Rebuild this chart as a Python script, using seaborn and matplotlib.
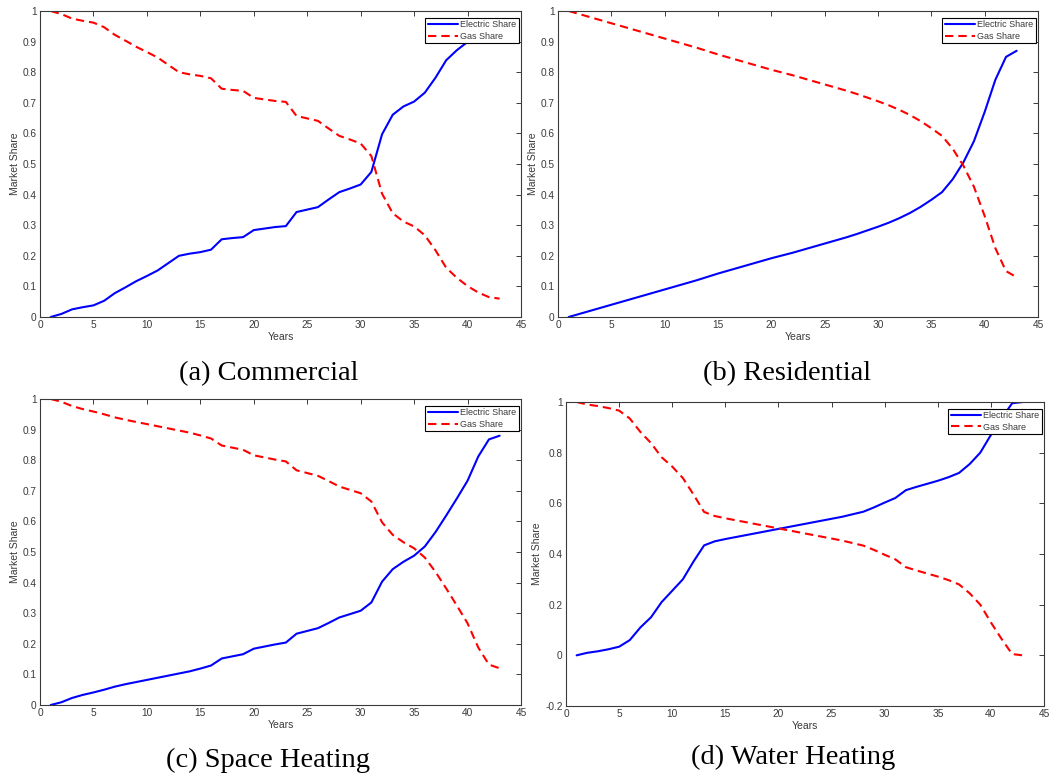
import matplotlib
matplotlib.use("Agg")
import matplotlib.pyplot as plt
from matplotlib.ticker import FuncFormatter
import numpy as np
import pandas as pd
import seaborn as sns

years = list(range(1, 44))

commercial_electric = [0.000, 0.010, 0.025, 0.032, 0.038, 0.053, 0.078, 0.097, 0.117, 0.134,
                       0.152, 0.176, 0.200, 0.207, 0.212, 0.220, 0.254, 0.258, 0.261, 0.284,
                       0.289, 0.294, 0.297, 0.343, 0.351, 0.359, 0.384, 0.408, 0.420, 0.433,
                       0.474, 0.597, 0.661, 0.688, 0.704, 0.733, 0.782, 0.839, 0.872, 0.899,
                       0.920, 0.935, 0.940]
commercial_gas = [1.000, 0.990, 0.975, 0.968, 0.962, 0.947, 0.922, 0.903, 0.883, 0.866,
                  0.848, 0.824, 0.800, 0.793, 0.788, 0.780, 0.746, 0.742, 0.739, 0.716,
                  0.711, 0.706, 0.703, 0.657, 0.649, 0.641, 0.616, 0.592, 0.580, 0.567,
                  0.526, 0.403, 0.339, 0.312, 0.296, 0.267, 0.218, 0.161, 0.128, 0.101,
                  0.080, 0.065, 0.060]

residential_electric = [0.000, 0.010, 0.020, 0.030, 0.040, 0.050, 0.060, 0.070, 0.080, 0.090,
                        0.100, 0.110, 0.120, 0.131, 0.142, 0.152, 0.162, 0.172, 0.182, 0.192,
                        0.201, 0.210, 0.220, 0.230, 0.240, 0.250, 0.260, 0.271, 0.283, 0.295,
                        0.308, 0.323, 0.340, 0.360, 0.383, 0.408, 0.450, 0.505, 0.575, 0.670,
                        0.775, 0.850, 0.870]
residential_gas = [1.000, 0.990, 0.980, 0.970, 0.960, 0.950, 0.940, 0.930, 0.920, 0.910,
                   0.900, 0.890, 0.880, 0.869, 0.858, 0.848, 0.838, 0.828, 0.818, 0.808,
                   0.799, 0.790, 0.780, 0.770, 0.760, 0.750, 0.740, 0.729, 0.717, 0.705,
                   0.692, 0.677, 0.660, 0.640, 0.617, 0.592, 0.550, 0.495, 0.425, 0.330,
                   0.225, 0.150, 0.130]

space_electric = [0.000, 0.009, 0.023, 0.033, 0.041, 0.050, 0.060, 0.068, 0.075, 0.082,
                  0.089, 0.096, 0.103, 0.110, 0.119, 0.129, 0.152, 0.159, 0.166, 0.184,
                  0.191, 0.198, 0.204, 0.233, 0.242, 0.251, 0.268, 0.286, 0.297, 0.308,
                  0.335, 0.403, 0.444, 0.468, 0.488, 0.518, 0.565, 0.619, 0.675, 0.733,
                  0.812, 0.868, 0.880]
space_gas = [1.000, 0.991, 0.977, 0.967, 0.959, 0.950, 0.940, 0.932, 0.925, 0.918,
             0.911, 0.904, 0.897, 0.890, 0.881, 0.871, 0.848, 0.841, 0.834, 0.816,
             0.809, 0.802, 0.796, 0.767, 0.758, 0.749, 0.732, 0.714, 0.703, 0.692,
             0.665, 0.597, 0.556, 0.532, 0.512, 0.482, 0.435, 0.381, 0.325, 0.267,
             0.188, 0.132, 0.120]

water_electric = [0.000, 0.010, 0.016, 0.024, 0.034, 0.060, 0.110, 0.150, 0.210, 0.255,
                  0.300, 0.370, 0.434, 0.450, 0.459, 0.467, 0.475, 0.483, 0.491, 0.499,
                  0.507, 0.515, 0.523, 0.531, 0.539, 0.547, 0.557, 0.567, 0.584, 0.603,
                  0.621, 0.652, 0.665, 0.677, 0.689, 0.703, 0.720, 0.755, 0.800, 0.870,
                  0.935, 0.995, 1.000]
water_gas = [1.000, 0.990, 0.984, 0.976, 0.966, 0.935, 0.882, 0.838, 0.782, 0.745,
             0.700, 0.635, 0.566, 0.550, 0.541, 0.533, 0.525, 0.517, 0.509, 0.501,
             0.493, 0.485, 0.477, 0.469, 0.461, 0.453, 0.443, 0.433, 0.416, 0.397,
             0.379, 0.348, 0.335, 0.323, 0.311, 0.297, 0.280, 0.245, 0.200, 0.130,
             0.065, 0.005, 0.000]

series_names = ["Electric Share", "Gas Share"]
captions = ["(a) Commercial", "(b) Residential", "(c) Space Heating", "(d) Water Heating"]

sns.set_theme(style="white")
plt.rcParams["font.family"] = ["Liberation Sans", "DejaVu Sans"]

W, H = 1052, 779
fig = plt.figure(figsize=(W / 100, H / 100), dpi=100)
fig.patch.set_facecolor("white")

def px_axes(l, t, r, b):
    return fig.add_axes([l / W, 1 - b / H, (r - l) / W, (b - t) / H])

panels = [
    (commercial_electric, commercial_gas, (40, 11, 521, 317), (269, 374), "std"),
    (residential_electric, residential_gas, (558, 11, 1038, 317), (787, 374), "std"),
    (space_electric, space_gas, (40, 399, 521, 705), (268, 760), "std"),
    (water_electric, water_gas, (566, 402, 1044, 706), (793, 757), "water"),
]

ink = "#3a3a3a"
fmt = FuncFormatter(lambda v, p: "%g" % round(v, 3))

for (elec, gas, box, cap, kind), caption in zip(panels, captions):
    ax = px_axes(*box)
    df = pd.DataFrame({
        "Years": years + years,
        "Market Share": elec + gas,
        "Series": [series_names[0]] * len(years) + [series_names[1]] * len(years),
    })
    sns.lineplot(data=df, x="Years", y="Market Share", hue="Series", style="Series",
                 palette={series_names[0]: "#0000ff", series_names[1]: "#ff0000"},
                 dashes={series_names[0]: "", series_names[1]: (4.0, 2.4)},
                 linewidth=1.5, ax=ax, legend=True)
    ax.set_xlim(0, 45)
    ax.set_xticks(np.arange(0, 46, 5))
    if kind == "water":
        ax.set_ylim(-0.2, 1)
        ax.set_yticks(np.arange(-0.2, 1.01, 0.2))
    else:
        ax.set_ylim(0, 1)
        ax.set_yticks(np.arange(0, 1.01, 0.1))
    ax.xaxis.set_major_formatter(fmt)
    ax.yaxis.set_major_formatter(fmt)
    ax.tick_params(direction="in", length=3.5, width=0.7, top=True, right=True,
                   labelsize=7.3, colors=ink, pad=2.5)
    for sp in ax.spines.values():
        sp.set_visible(True)
        sp.set_color(ink)
        sp.set_linewidth(0.8)
    ax.set_xlabel("Years", fontsize=7.5, color=ink, labelpad=1)
    ax.set_ylabel("Market Share", fontsize=7.5, color=ink, labelpad=2)
    ax.grid(False)
    handles, labels = ax.get_legend_handles_labels()
    leg = ax.legend(handles, labels, loc="upper right", bbox_to_anchor=(0.995, 0.978),
                    borderaxespad=0, fontsize=6.5, frameon=True, fancybox=False,
                    handlelength=3.3, handletextpad=0.25, borderpad=0.3,
                    labelspacing=0.25, framealpha=1, edgecolor="black")
    leg.get_frame().set_linewidth(0.8)
    for t in leg.get_texts():
        t.set_color(ink)
    leg.set_zorder(10)
    fig.text(cap[0] / W, 1 - cap[1] / H, caption, ha="center", va="center",
             fontsize=20.5, family=["Liberation Serif", "DejaVu Serif"], color="black")

fig.savefig("out.png", dpi=100, facecolor="white")
